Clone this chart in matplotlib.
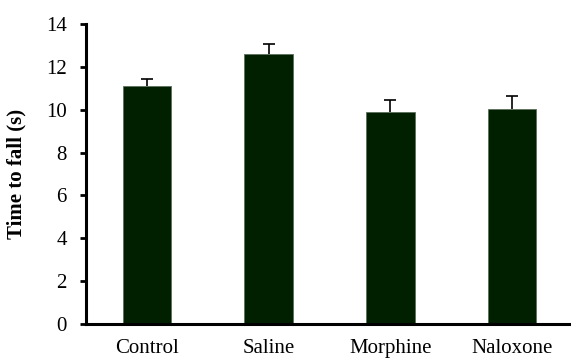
import matplotlib
matplotlib.use("Agg")
import matplotlib.pyplot as plt
import numpy as np

groups = ["Control", "Saline", "Morphine", "Naloxone"]
time_to_fall = [11.1, 12.6, 9.88, 10.02]
sem = [0.33, 0.48, 0.56, 0.62]
yticks = [0, 2, 4, 6, 8, 10, 12, 14]

plt.rcParams["font.family"] = ["Liberation Serif", "DejaVu Serif"]

fig = plt.figure(figsize=(5.71, 3.58), dpi=100)
ax = fig.add_axes([86 / 571, 1 - 324 / 358, (573 - 86) / 571, 300 / 358])

x = np.arange(len(groups))
vals = np.array(time_to_fall)
errs = np.array(sem)

ax.bar(x, vals, width=0.4, color="#002000", edgecolor="#5c6e5c",
       linewidth=0.6, zorder=2)

# upper-only error bars with caps
cap_half = 0.05
ax.vlines(x, vals, vals + errs, color="black", linewidth=1.2, zorder=1)
ax.hlines(vals + errs, x - cap_half, x + cap_half, color="black",
          linewidth=1.2, zorder=1)

ax.set_xlim(-0.5, 3.5)
ax.set_ylim(0, 14)
ax.set_yticks(yticks)
ax.set_xticks(x)
ax.set_xticklabels(groups)

for s in ["top", "right"]:
    ax.spines[s].set_visible(False)
for s in ["left", "bottom"]:
    ax.spines[s].set_linewidth(2.2)

ax.tick_params(axis="y", length=4.3, width=2.0, pad=9.4, labelsize=15)
ax.tick_params(axis="x", length=0, pad=10.5, labelsize=15)

ax.set_ylabel("Time to fall (s)", fontsize=15, fontweight="bold")
ax.yaxis.set_label_coords(-60 / 487, 0.5)

fig.savefig("out.png", dpi=100)
